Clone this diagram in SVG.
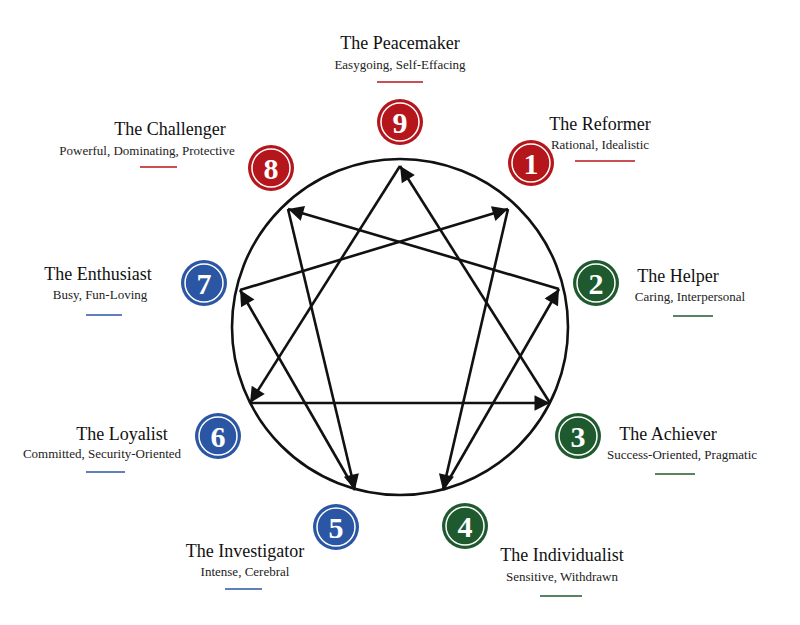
<svg xmlns="http://www.w3.org/2000/svg" width="800" height="625" viewBox="0 0 800 625">
<style>
.t{font-family:"Liberation Serif","Times New Roman",serif;font-size:18px;fill:#111;text-anchor:middle;font-weight:normal}
.s{font-family:"Liberation Serif","Times New Roman",serif;font-size:13px;fill:#222;text-anchor:middle}
.n{font-family:"Liberation Serif","Times New Roman",serif;font-size:30px;font-weight:bold;fill:#fff;text-anchor:middle}
.ln{stroke:#111;stroke-width:2.6;fill:none;marker-end:url(#ah)}
.r{fill:#b5161b}.g{fill:#1f5a2f}.b{fill:#2b56a3}
.ring{fill:none;stroke:#fff;stroke-width:1.5}
</style>
<defs>
<marker id="ah" viewBox="0 0 10 10" refX="10" refY="5" markerWidth="7" markerHeight="7" markerUnits="userSpaceOnUse" orient="auto" style="overflow:visible">
<path d="M0,0 L10,5 L0,10 z" fill="#111" transform="scale(2.2) translate(-5.5,-2.7)"/>
</marker>
</defs>
<rect width="800" height="625" fill="#fff"/>
<circle cx="400" cy="327" r="168" fill="none" stroke="#111" stroke-width="2.6"/>
<g id="connectors">
<line class="ln" x1="508" y1="209" x2="443" y2="490"/>
<line class="ln" x1="443" y1="490" x2="559" y2="289"/>
<line class="ln" x1="559" y1="289" x2="288" y2="209"/>
<line class="ln" x1="288" y1="209" x2="355" y2="490"/>
<line class="ln" x1="355" y1="490" x2="240" y2="290"/>
<line class="ln" x1="240" y1="290" x2="508" y2="209"/>
<line class="ln" x1="400" y1="166" x2="250" y2="403"/>
<line class="ln" x1="250" y1="403" x2="550" y2="403"/>
<line class="ln" x1="550" y1="403" x2="400" y2="166"/>
</g>
<g id="n9"><circle cx="400" cy="122" r="23" class="r"/><circle cx="400" cy="122" r="19" class="ring"/><text class="n" x="400" y="133">9</text>
<text class="t" x="400" y="49">The Peacemaker</text><text class="s" x="400" y="69">Easygoing, Self-Effacing</text><line x1="377" y1="82" x2="423" y2="82" stroke="#b5161b" stroke-width="1.5"/></g>
<g id="n1"><circle cx="531" cy="163" r="23" class="r"/><circle cx="531" cy="163" r="19" class="ring"/><text class="n" x="531" y="174">1</text>
<text class="t" x="600" y="130">The Reformer</text><text class="s" x="600" y="149">Rational, Idealistic</text><line x1="575" y1="161" x2="635" y2="161" stroke="#b5161b" stroke-width="1.5"/></g>
<g id="n8"><circle cx="271" cy="168" r="23" class="r"/><circle cx="271" cy="168" r="19" class="ring"/><text class="n" x="271" y="179">8</text>
<text class="t" x="170" y="135">The Challenger</text><text class="s" x="147" y="155">Powerful, Dominating, Protective</text><line x1="140" y1="167" x2="177" y2="167" stroke="#b5161b" stroke-width="1.5"/></g>
<g id="n2"><circle cx="596" cy="283" r="23" class="g"/><circle cx="596" cy="283" r="19" class="ring"/><text class="n" x="596" y="294">2</text>
<text class="t" x="678" y="282">The Helper</text><text class="s" x="690" y="301">Caring, Interpersonal</text><line x1="673" y1="316" x2="713" y2="316" stroke="#1f5a2f" stroke-width="1.5"/></g>
<g id="n7"><circle cx="204" cy="283" r="23" class="b"/><circle cx="204" cy="283" r="19" class="ring"/><text class="n" x="204" y="294">7</text>
<text class="t" x="98" y="280">The Enthusiast</text><text class="s" x="100" y="299">Busy, Fun-Loving</text><line x1="86" y1="315" x2="122" y2="315" stroke="#2b56a3" stroke-width="1.5"/></g>
<g id="n3"><circle cx="578" cy="436" r="23" class="g"/><circle cx="578" cy="436" r="19" class="ring"/><text class="n" x="578" y="447">3</text>
<text class="t" x="668" y="440">The Achiever</text><text class="s" x="682" y="459">Success-Oriented, Pragmatic</text><line x1="655" y1="474" x2="695" y2="474" stroke="#1f5a2f" stroke-width="1.5"/></g>
<g id="n6"><circle cx="218" cy="436" r="23" class="b"/><circle cx="218" cy="436" r="19" class="ring"/><text class="n" x="218" y="447">6</text>
<text class="t" x="122" y="440">The Loyalist</text><text class="s" x="102" y="458">Committed, Security-Oriented</text><line x1="86" y1="472" x2="125" y2="472" stroke="#2b56a3" stroke-width="1.5"/></g>
<g id="n4"><circle cx="465" cy="526" r="23" class="g"/><circle cx="465" cy="526" r="19" class="ring"/><text class="n" x="465" y="537">4</text>
<text class="t" x="562" y="561">The Individualist</text><text class="s" x="562" y="581">Sensitive, Withdrawn</text><line x1="540" y1="596" x2="582" y2="596" stroke="#1f5a2f" stroke-width="1.5"/></g>
<g id="n5"><circle cx="336" cy="527" r="23" class="b"/><circle cx="336" cy="527" r="19" class="ring"/><text class="n" x="336" y="538">5</text>
<text class="t" x="245" y="557">The Investigator</text><text class="s" x="245" y="576">Intense, Cerebral</text><line x1="225" y1="589" x2="262" y2="589" stroke="#2b56a3" stroke-width="1.5"/></g>
</svg>
